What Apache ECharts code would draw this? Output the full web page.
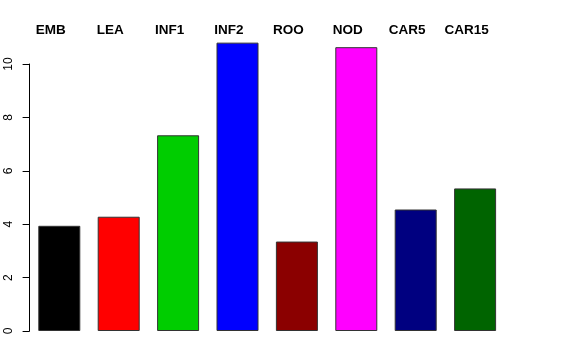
<!DOCTYPE html>
<html><head><meta charset="utf-8">
<script src="https://cdn.jsdelivr.net/npm/echarts@6/dist/echarts.min.js"></script>
<style>html,body{margin:0;padding:0;background:#fff}#c{width:576px;height:360px}</style>
</head><body><div id="c"></div>
<script>
var categories = ["EMB","LEA","INF1","INF2","ROO","NOD","CAR5","CAR15"];
var values = [3.94, 4.28, 7.33, 10.80, 3.35, 10.63, 4.55, 5.34];
var colors = ["#000000","#FF0000","#00CD00","#0000FF","#8B0000","#FF00FF","#000080","#006400"];
var yTicks = [0, 2, 4, 6, 8, 10];

var chart = echarts.init(document.getElementById('c'), null, {renderer:'canvas'});
var font = "'Liberation Sans', Arial, Helvetica, sans-serif";
chart.setOption({
  animation: false,
  backgroundColor: '#fff',
  grid: [
    {left: 29.6, right: 71.2, top: 37.3, bottom: 29, containLabel: false},
    {left: 29.6, right: 71.2, top: 64, bottom: 29, containLabel: false}
  ],
  xAxis: [
    {type: 'category', gridIndex: 0, position: 'top', data: categories,
     axisLine: {show: false}, axisTick: {show: false},
     axisLabel: {show: true, margin: 0, interval: 0,
       formatter: function(v){ return '{a|' + v + '}'; },
       rich: {a: {fontFamily: font, fontSize: 13.5, fontWeight: 'bold', color: '#000', padding: [0, 17, 0, 0]}}}},
    {type: 'category', gridIndex: 1, data: categories, show: false}
  ],
  yAxis: [
    {type: 'value', gridIndex: 0, min: 0, max: 11, show: false},
    {type: 'value', gridIndex: 1, min: 0, max: 10, interval: 2,
     axisLine: {show: true, lineStyle: {color: '#000', width: 1}},
     axisTick: {show: true, length: 7, lineStyle: {color: '#000'}},
     splitLine: {show: false},
     axisLabel: {show: true, rotate: 90, margin: 15, color: '#000', fontSize: 12, fontFamily: font,
       formatter: function(v){ return yTicks.indexOf(v) >= 0 ? String(v) : ''; }}}
  ],
  series: [{
    type: 'bar', xAxisIndex: 0, yAxisIndex: 0, barWidth: 42,
    data: values.map(function(v, i){ return {value: v, itemStyle: {color: colors[i], borderColor: '#333', borderWidth: 1}}; })
  }]
});
</script></body></html>
